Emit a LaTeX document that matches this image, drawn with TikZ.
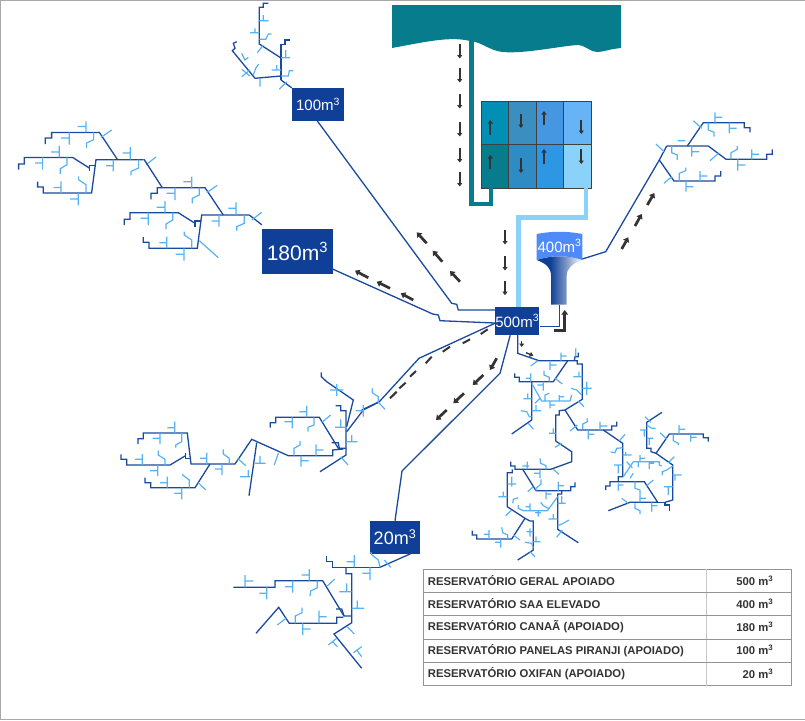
\documentclass[tikz,border=0pt]{standalone}
\usepackage{fontspec}
\setmainfont{Liberation Sans}
\usetikzlibrary{
  arrows.meta,
}
\definecolor{pipeblue}{HTML}{1A4A9E}
\definecolor{tankblue}{HTML}{0F3F96}
\definecolor{twigblue}{HTML}{54B2F5}
\definecolor{seateal}{HTML}{067C8C}
\definecolor{feedblue}{HTML}{8AD2FA}
\definecolor{arrowgray}{HTML}{333333}
\definecolor{framegray}{HTML}{A8A8A8}
\pgfdeclarehorizontalshading{towershade}{100bp}{
  color(0bp)=(tankblue); color(40bp)=(tankblue); color(57bp)=(tankblue!55!white);
  color(75bp)=(white); color(100bp)=(white)
}
\tikzset{
  pipe/.style = {
    draw = pipeblue,
    line width = 1.3pt
  },
  twig/.style = {
    draw = twigblue,
    line width = 1.2pt
  },
  feed/.style = {
    line width = 4.5pt
  },
  flow/.style = {
    -{Triangle[length = 4.5pt, width = 6.5pt]},
    line width = 2.7pt,
    color = arrowgray
  },
  flowthin/.style = {
    -{Triangle[length = 3.5pt, width = 5pt]},
    line width = 2pt,
    color = arrowgray
  },
  dashpiece/.style = {
    line width = 2pt,
    color = arrowgray
  },
  tank/.style = {
    rectangle,
    fill = tankblue,
    text = white,
    inner sep = 0pt,
    font = \fontsize{15}{15}\selectfont
  },
  cell/.style = {
    rectangle,
    draw = black!75,
    line width = .9pt,
    minimum width = 27.4pt,
    minimum height = 43.5pt,
    inner sep = 0pt
  },
  rowtext/.style = {
    inner sep = 0pt,
    text = black!80,
    font = \fontsize{11.3}{13}\selectfont\bfseries
  },
  rowline/.style = {
    draw = black!42,
    line width = .9pt
  },
}
% one block of the Canaa network, repeated
\newcommand{\canaablock}[1]{
  \begin{scope}[shift = {#1}]
    \draw[pipe] (249.3,215) -- (201.7,215) -- (197.3,248.3) -- (149,248.3) -- (149,242.3) -- (143.3,242.3) -- (143.3,237);
    \draw[pipe] (223.3,215) -- (205,187.7) -- (157.3,187.7) -- (157.3,193.3) -- (151,193.3) -- (151,199.3);
    \draw[pipe] (195,223.3) -- (178.3,212.7) -- (130,212.7) -- (130,219.3) -- (124.3,219.3) -- (124.3,225);
    \draw[pipe] (195,226.7) -- (195,221) -- (201,221);
    \draw[twig] (236,215) -- (236,202.3) (228.3,208.3) -- (236,208.3)
      (251.7,220) -- (261.7,212.3)
      (219,215) -- (219,226.7) (211.7,221) -- (219,221)
      (244.3,215) -- (244.3,223.3) -- (236.7,226.7) -- (236.7,230.7)
      (191.7,176.7) -- (191.7,187.7) (183.3,181.7) -- (191.7,181.7)
      (206.7,192.7) -- (217.3,185.3)
      (175,187.7) -- (175,200) (166.7,193.3) -- (175,193.3)
      (199.3,187.7) -- (199.3,195) -- (192.3,198.3) -- (192.3,203.3)
      (165,201) -- (165,212.7) (156.7,207.3) -- (165,207.3)
      (148.3,212.7) -- (148.3,225) (140.7,218.3) -- (148.3,218.3)
      (172.7,212.7) -- (172.7,220) -- (166,224) -- (166,229.3)
      (166.7,236.7) -- (166.7,248.3) (159.3,242.7) -- (166.7,242.7)
      (184,248.3) -- (184,260.7) (175.7,254.3) -- (184,254.3)
      (191.7,248.3) -- (191.7,240) -- (184.3,235) -- (184.3,231.7);
  \end{scope}
}

\begin{document}
\begin{tikzpicture}[x = 1pt, y = -1pt]
  \useasboundingbox (0,0) rectangle (805,720);
  \draw[framegray, line width = 1pt] (805,.5) -- (.5,.5) -- (.5,719) -- (805,719);

  % lake, pumping and treatment
  \fill[seateal] (392,5) -- (621,5) -- (621,48) .. controls (610,49) and (603,52) .. (597,52)
    .. controls (590,52) and (587,46) .. (578,45) .. controls (560,46) and (525,54) .. (503,52)
    .. controls (490,51) and (482,42) .. (470,41) .. controls (450,36) and (425,42) .. (392,48) -- cycle;
  \coordinate (seaout) at (471.7,40);
  \foreach \cname/\cx/\cy/\cclr in {
    a/495/122.7/0090B5, b/522.4/122.7/3A8FC0, c/549.9/122.7/4497E0, d/577.3/122.7/66B3F5,
    e/495/166.2/067C8C, f/522.4/166.2/2E8BC4, g/549.9/166.2/2E97E4, h/577.3/166.2/8AD2FA
  }{
    \definecolor{cellclr}{HTML}{\cclr}
    \node[cell, fill = cellclr] (cell\cname) at (\cx,\cy) {};
  }
  \draw[seateal, feed] (seaout) -- (471.7,204) -- (491,204) -- (cella.south -| 491,187);
  \draw[feedblue, feed] (586,188) -- (586,217.3) -- (518.3,217.3) -- (518.3,307);

  % reservoirs
  \node[tank, minimum width = 44.3pt, minimum height = 28pt] (res500) at (517.2,321) {500m\textsuperscript{3}};
  \node[tank, minimum width = 52pt, minimum height = 32.7pt] (res100) at (318,104.4) {100m\textsuperscript{3}};
  \node[tank, minimum width = 70.7pt, minimum height = 45pt, font = \fontsize{21}{21}\selectfont] (res180) at (297.4,251.5) {180m\textsuperscript{3}};
  \node[tank, minimum width = 50.3pt, minimum height = 32.7pt, font = \fontsize{18}{18}\selectfont] (res20) at (395,537.3) {20m\textsuperscript{3}};
  \shade[shading = towershade, draw = none] (536.7,260) .. controls (552,255) and (567,255) .. (582.3,260)
    .. controls (572,264) and (566.7,268) .. (566.7,276) -- (566.7,304.7) -- (551,304.7) -- (551,276)
    .. controls (551,268) and (547,264) .. (536.7,260) -- cycle;
  \fill[twigblue!70!blue!90!white] (536.7,234) .. controls (552,231) and (567,231) .. (582.3,234) -- (582.3,260)
    .. controls (567,255) and (552,255) .. (536.7,260) -- cycle;
  \node[tank, fill = none, minimum width = 45.6pt, minimum height = 26pt] (res400) at (559.5,246) {400m\textsuperscript{3}};
  \coordinate (res400foot) at (559.3,304.7);
  \coordinate (res400side) at (582.3,259);

  % mains leaving the reservoirs
  \draw[pipe] (res100.south) ++(-.7,0) -- (451.7,303.3) -- (456.7,304.3) -- (458.3,310) -- ([yshift = 11pt]res500.west);
  \draw[pipe] ([yshift = -17.7pt]res180.east) -- (432.7,314) -- (438.3,315) -- (440,320.7) -- ([yshift = -2pt]res500.west);
  \draw[pipe] ([yshift = -2.3pt]res500.west) -- (419,358.3) -- (379.3,401.7) -- (361.7,410);
  \draw[pipe] ([xshift = -7pt]res500.south) -- (500,373.3) -- (402,471) -- (res20.north);
  \draw[pipe] (res400foot) -- (559.3,326.3) -- ([yshift = -5.3pt]res500.east);
  \draw[pipe] (res400side) -- (605.7,251.7) -- (659.3,160) -- (666.7,146);
  \draw[pipe] (res500.south) ++(.5,0) -- (517.7,353.3) -- (539,360.7) -- (574.3,360.7);
  \draw[pipe] ([yshift = 4pt]res180.north west) -- (249.3,215);
  \draw[pipe] ([xshift = 0pt]res100.north west) -- (281,80);
  \draw[pipe] ([xshift = -10pt]res20.south east) -- (380,567.3);

  % arrows
  \foreach \ay in {44, 68, 94, 122, 148, 172}{
    \draw[flowthin] (459.7,\ay) -- +(0,14.5);
  }
  \foreach \ay in {230, 256, 280.7}{
    \draw[flowthin] (505,\ay) -- +(0,14.5);
  }
  \draw[flowthin] (490.3,135) -- (490.3,120);
  \draw[flowthin] (521,114) -- (521,128);
  \draw[flowthin] (544,125) -- (544,111);
  \draw[flowthin] (581.3,120) -- (581.3,134);
  \draw[flowthin] (490.3,169) -- (490.3,155);
  \draw[flowthin] (521,158) -- (521,173);
  \draw[flowthin] (544,164) -- (544,149);
  \draw[flowthin] (581.3,149) -- (581.3,164);
  \draw[flow] (460,281.7) -- (450,271);
  \draw[flow] (442.3,261.7) -- (432.7,250.7);
  \draw[flow] (426.7,243.3) -- (416.7,232.3);
  \draw[flow] (413.3,300) -- (400.7,293.3);
  \draw[flow] (390,288.3) -- (376.7,281.7);
  \draw[flow] (368.3,277.7) -- (355,270.7);
  \draw[flow] (496.7,358.3) -- (490,370);
  \draw[flow] (483.3,375) -- (472.7,385);
  \draw[flow] (464,393.3) -- (453.3,403.3);
  \draw[flow] (446.7,410) -- (436,420);
  \draw[flow] (621.7,249) -- (628.3,237.3);
  \draw[flow] (635,226) -- (641.7,214);
  \draw[flow] (647.3,205) -- (654.3,193);
  \draw[flow, line width = 3pt] (554,330.7) -- (564.7,330.7) -- (564.7,310);
  \draw[dashpiece] (487.7,329.3) -- (480.7,334) (470,339.3) -- (462.7,343.3) (450,346.7) -- (442.7,351.7)
    (431.7,356.7) -- (425.7,363.3) (416,371) -- (410,376.7) (405.7,382.7) -- (399.3,388.3) (396.7,391.7) -- (390,398.3);
  \draw[flowthin, line width = 1.4pt] (521.7,340.7) -- (521.7,347);
  \draw[flowthin, line width = 1.4pt] (526,352.7) -- (533.3,355.7);

  % network 100
  \draw[pipe] (281,80) -- (281,44.3) -- (285,44.3) -- (285,40) -- (290,40);
  \draw[pipe] (281,58) -- (259.3,44) -- (259.3,7.3) -- (263.3,7.3) -- (263.3,3.3) -- (268.3,3.3);
  \draw[pipe] (281,76) -- (255,78.3) -- (232.3,50.7) -- (235,48.3) -- (233.3,43.3) -- (236.7,41.7);
  \draw[twig] (259.3,20.7) -- (268.7,20.7) (263.3,15) -- (263.3,20.7)
    (250,32.7) -- (259.3,32.7) (255,28.3) -- (255,32.7)
    (259.3,39.3) -- (265.7,39.3) -- (268.3,34) -- (271.7,34)
    (263.3,45) -- (257.3,52.7)
    (281,57.7) -- (290,57.7) (285.7,50) -- (285.7,57.7)
    (271.7,70) -- (281,70) (276.7,65) -- (276.7,70)
    (281,76) -- (288.3,76) -- (289.3,70.7) -- (293.3,70.7)
    (286.7,81.7) -- (279.3,89.3)
    (260,78.3) -- (260,86.7)
    (253.3,75) -- (255.7,68.3) -- (258.7,64)
    (241.7,76.7) -- (250,70) (241.7,69.3) -- (250,76)
    (241.7,53.3) -- (245,60) -- (248.3,57.3);

  % network 180
  \canaablock{(0,0)}
  \canaablock{(-105.7,-55.3)}
  \draw[pipe] (144,159.3) -- (162.3,187.7);
  \draw[twig] (199.3,240.7) -- (218.3,257.7);

  % network lower left
  \draw[pipe] (378.3,402.3) -- (363.3,410) -- (346.7,431.7);
  \draw[pipe] (335.7,405.7) -- (340.7,405.7) -- (340.7,410.7) -- (346,410.7) -- (346,455) -- (320,471.7);
  \draw[pipe] (346.7,426.7) -- (353.3,400) -- (326.7,381.7) -- (321.3,376.7) -- (321.3,372.3);
  \draw[pipe] (346,448.3) -- (338.3,448.3) -- (319.3,417.3) -- (275.7,417.3) -- (275.7,422.7) -- (270.3,422.7) -- (270.3,427.7);
  \draw[pipe] (331.7,442.7) -- (338.3,442.7) -- (339.3,448.3);
  \draw[pipe] (343.3,449) -- (332.7,450) -- (332.7,455.7) -- (288.3,455.7) -- (251.7,439.3) -- (235,464) -- (191,464) -- (187.3,433) -- (143.3,433) -- (143.3,438.7) -- (138,438.7) -- (138,444);
  \draw[pipe] (256.7,442.7) -- (249,495.7);
  \draw[pipe] (210,464) -- (195,487.7) -- (150.7,487.7) -- (150.7,482.7) -- (145,482.7) -- (145,477.7);
  \draw[pipe] (185,456) -- (170,465) -- (126.7,465) -- (126.7,459.3) -- (121,459.3) -- (121,454.3);
  \draw[pipe] (185.7,453.3) -- (185.7,458.3) -- (191,458.3);
  \draw[twig] (372.3,388.3) -- (372.3,392.7) -- (378.3,396.7) -- (378.3,402.3)
    (378.3,402.3) -- (385,409.3)
    (363.3,405) -- (363.3,416.7) (355.7,410.7) -- (363.3,410.7)
    (336.7,384) -- (336.7,396) (330,390) -- (343.3,390)
    (340.7,419.3) -- (340.7,427.3) (335,427.3) -- (346,427.3)
    (346,441.7) -- (357.3,441.7) (351.7,435) -- (351.7,441.7)
    (340.7,456.7) -- (348,465)
    (306.7,405.7) -- (306.7,417.3) (299.3,411.7) -- (306.7,411.7)
    (292.3,417.3) -- (292.3,428.3) (284.3,421.7) -- (292.3,421.7)
    (314,417.3) -- (314,425) -- (308,427.3) -- (308,431.7)
    (322.3,422) -- (330.7,415)
    (294,455.7) -- (294,448.3) -- (300,445) -- (300,441)
    (316,455.7) -- (316,444.3) (316,450) -- (323.3,450)
    (301,455.7) -- (301,466.7) (301,460.7) -- (308.7,460.7)
    (278.3,453.3) -- (274.3,465)
    (260,456) -- (260,463.3) (255,463.3) -- (265.7,463.3)
    (237.7,458.3) -- (245.7,465.7)
    (248.3,470) -- (248.3,477.3) (240,476.7) -- (250,476.7)
    (222,464) -- (222,475) (215,469) -- (222,469)
    (229.3,464) -- (229.3,458.3) -- (223.3,454) -- (223.3,449.3)
    (206.7,452.7) -- (206.7,464) (200,458.3) -- (206.7,458.3)
    (174.7,421.7) -- (174.7,433) (167.3,427.7) -- (174.7,427.7)
    (160,433) -- (160,444) (152.7,438.3) -- (160,438.3)
    (181.7,433) -- (181.7,441.7) -- (175.7,445) -- (175.7,447.7)
    (142.3,454) -- (142.3,465) (135,459.3) -- (142.3,459.3)
    (157.7,465) -- (157.7,476) (150,470.7) -- (157.7,470.7)
    (165,465) -- (165,459.3) -- (158.3,455) -- (158.3,450.7)
    (167.3,476.7) -- (167.3,487.7) (160,482.7) -- (167.3,482.7)
    (181.7,487.7) -- (181.7,499.3) (174.3,493.3) -- (181.7,493.3)
    (189.3,487.7) -- (189.3,480) -- (182.7,475) -- (182.7,474)
    (198.3,482.7) -- (205.7,490);

  % network 20
  \draw[pipe] (380,567.3) -- (332.7,567.3) -- (332.7,561.7) -- (326.7,561.7) -- (326.7,556);
  \draw[pipe] (346,567.3) -- (346,573.7) -- (351.7,573.7) -- (351.7,622.7) -- (334,634) -- (361.7,668.3);
  \draw[pipe] (351.7,616) -- (344,616) -- (322.7,580.7) -- (275,580.7) -- (275,587.3) -- (233.3,587.3);
  \draw[pipe] (343.3,617.3) -- (336.7,617.3) -- (336.7,623.3) -- (289.3,623.3) -- (278.7,607.3) -- (256,633.3);
  \draw[pipe] (336,609) -- (341.7,609) -- (344,616);
  \draw[twig] (370.7,552) -- (372,555) -- (378.3,560) -- (380,567.3)
    (384.3,560) -- (390.7,567.3)
    (354.3,555) -- (354.3,567.3) (346.7,561.7) -- (354.3,561.7)
    (370,567.3) -- (370,580) (362.3,573.3) -- (370,573.3)
    (309.3,569) -- (309.3,580.7) (301.7,575) -- (309.3,575)
    (292.7,580.7) -- (292.7,592.7) (285,586.7) -- (292.7,586.7)
    (317.3,580.7) -- (317.3,587.7) -- (310.7,591) -- (310,596)
    (327.3,586) -- (334.7,579)
    (346.7,583.3) -- (346.7,591.7) (339.3,591.7) -- (351.7,591.7)
    (357.3,600.7) -- (357.3,608.3) (351.7,608.3) -- (364,608.3)
    (347.3,626.7) -- (354.3,634)
    (336.7,638.3) -- (328.3,645) (332.7,641.7) -- (337.3,646.7)
    (353.3,652.7) -- (361.7,646.7) (356.7,650) -- (361.7,656.7)
    (319,623.3) -- (319,610.7) (319,616.7) -- (326.7,616.7)
    (302.7,623.3) -- (302.7,635) (302.7,629) -- (310.7,629)
    (295.3,623.3) -- (295.3,616) -- (302,612.7) -- (302,607.7)
    (277.3,625) -- (286,618.3)
    (245,575) -- (245,587.3) (245,581) -- (253.3,581)
    (266.7,587.3) -- (266.7,599.3) (259.3,593.3) -- (266.7,593.3);

  % network 400
  \draw[pipe] (666.7,146) -- (708.3,146) -- (726,159.3) -- (766.7,159.3) -- (766.7,154.3) -- (772.3,154.3) -- (772.3,149.3);
  \draw[pipe] (687.3,146) -- (703.3,122.7) -- (744.3,122.7) -- (744.3,127.7) -- (750,127.7) -- (750,132.3);
  \draw[pipe] (659.3,160) -- (674,181) -- (715,181) -- (715,176) -- (720.7,176) -- (720.7,171);
  \draw[twig] (656,144) -- (664,151.7)
    (671.7,146) -- (671.7,152.7) -- (677.3,155) -- (677.3,160)
    (691.7,146) -- (691.7,156.7) (691.7,151.7) -- (699.3,151.7)
    (677.7,140.7) -- (685.3,140.7)
    (693.3,120.7) -- (701.7,128.3)
    (708.3,122.7) -- (708.3,130) -- (714,132.3) -- (714,136.7)
    (715,112.3) -- (715,122.7) (715,117.3) -- (722.3,117.3)
    (729.3,122.7) -- (729.3,133.3) (729.3,128.3) -- (736.7,128.3)
    (710,160.7) -- (718.3,153.3)
    (731,159.3) -- (731,152.7) -- (737.3,149.3) -- (737.3,146)
    (737.7,159.3) -- (737.7,170.7) (737.7,165) -- (745.3,165)
    (751.7,149.3) -- (751.7,159.3) (751.7,154.3) -- (759,154.3)
    (664,183.3) -- (671.7,176.7)
    (679.3,181) -- (679.3,173.3) -- (685.7,170.7) -- (685.7,167.7)
    (686,181) -- (686,191.7) (686,186.7) -- (693.3,186.7)
    (700,171) -- (700,181) (700,176) -- (707.3,176);

  % network 500
  \draw[pipe] (574.3,360.7) -- (575,356.7) -- (578.3,356.7) -- (578.3,352.7);
  \draw[pipe] (574.3,360.7) -- (577.3,360.7) -- (577.3,364) -- (582.3,364) -- (582.3,399.3) -- (565,410) -- (559.3,410.7) -- (559.3,415) -- (555.7,415) -- (555.7,441) -- (571.7,451.7) -- (571.7,461.7) -- (550.7,469.3) -- (515,469.3) -- (515,466) -- (510.7,466) -- (510.7,461.7);
  \draw[pipe] (567.7,360.7) -- (553.3,381.7) -- (519.3,381.7) -- (519.3,377.3) -- (514.7,377.3) -- (514.7,373.3);
  \draw[pipe] (531.7,381.7) -- (531.7,420) -- (511.7,434);
  \draw[pipe] (565,410) -- (577.7,430) -- (611.7,430) -- (611.7,426) -- (616.7,426) -- (616.7,421.7);
  \draw[pipe] (603.3,430) -- (622.7,443.3) -- (622.7,476.7) -- (618.3,476.7) -- (618.3,481.7) -- (610,481.7) -- (610,486) -- (605.7,486) -- (605.7,490);
  \draw[pipe] (618.3,481.7) -- (644.3,481.7) -- (657.7,502.3) -- (630,502.3) -- (608.3,510.7);
  \draw[pipe] (657.7,502.3) -- (665,502.3) -- (665,505) -- (669.3,505) -- (669.3,510.7);
  \draw[pipe] (665,502.3) -- (672.7,500) -- (672.7,465) -- (656,453.3) -- (669.3,434) -- (703.3,434) -- (703.3,437.7) -- (708.3,437.7) -- (708.3,441.7);
  \draw[pipe] (656,453.3) -- (651,451.7) -- (651,448.3) -- (646.7,448.3) -- (646.7,422.3) -- (662,412.3);
  \draw[pipe] (522.7,469.3) -- (536,490.7) -- (570.7,490.7) -- (570.7,486.7) -- (575,486.7) -- (575,482.3);
  \draw[pipe] (561.7,490.7) -- (561.7,494) -- (557.7,494) -- (557.7,529.3) -- (578.3,542.7);
  \draw[pipe] (512.3,469.3) -- (512.3,472.7) -- (507.3,472.7) -- (507.3,506.7) -- (525,518.3) -- (530,521) -- (533.3,521) -- (533.3,550) -- (517.7,560);
  \draw[pipe] (525,518.3) -- (511.7,539) -- (476.7,539) -- (476.7,535) -- (472.3,535) -- (472.3,530.7);
  \draw[twig] (561,352.7) -- (561,360.7) (561,356) -- (566.7,356)
    (575.7,348.3) -- (575.7,356.7)
    (550,360.7) -- (550,370) (550,365) -- (556.7,365)
    (537.7,360.7) -- (530.7,366)
    (544,370.7) -- (544,375) -- (549.3,377.3) -- (549.3,381.7)
    (555,378.3) -- (562.3,384)
    (530.7,373.3) -- (530.7,381.7) (526,378.3) -- (530.7,378.3)
    (543.3,381.7) -- (543.3,390.7) (537.3,385) -- (543.3,385)
    (579,371.7) -- (579,376.7) (573.3,376.7) -- (582.3,376.7)
    (586.7,381.7) -- (586.7,395) (582.3,388.3) -- (591.7,388.3)
    (571,388.3) -- (576.7,390) -- (581.7,395)
    (578.3,401) -- (584,406.7)
    (531.7,383.3) -- (541.7,401) -- (570,401) -- (571.7,395)
    (545,401) -- (545,395) -- (549.3,393.3)
    (550,401) -- (550,408.3) (550,405) -- (555,405)
    (559.3,401) -- (559.3,395) (559.3,396.7) -- (564,396.7)
    (540,398.3) -- (535,403.3)
    (523.3,398.7) -- (531.7,398.7) (527.7,393.3) -- (527.7,399.3)
    (531.7,410.7) -- (541,410.7) (536,405) -- (536,410.7)
    (520.7,410.7) -- (526.7,411.7) -- (529.3,416.7) -- (531.7,416.7)
    (528.3,423.3) -- (533.3,429.3)
    (549,433.3) -- (555.7,433.3) (553.3,428.3) -- (553.3,433.3)
    (561.7,443.3) -- (555,447.3)
    (570,431) -- (577.3,425)
    (582.7,429.3) -- (582.7,424) -- (587.3,421.7) -- (587.3,418.3)
    (600,421.7) -- (600,430) (600,426) -- (607.3,426)
    (588.3,430) -- (588.3,439.3) (588.3,434.3) -- (594.3,434.3)
    (619.3,441) -- (625,434.3)
    (622.7,447.7) -- (616.7,448.3) -- (615,452.7) -- (610.7,452)
    (622.7,455) -- (631.7,455) (625.7,452) -- (625.7,455)
    (614,465) -- (622.7,465) (618.3,465) -- (618.3,473.3)
    (618.3,483.3) -- (618.3,490.7) (618.3,485) -- (623.3,485)
    (645,416.7) -- (650.7,422.3)
    (646.7,425) -- (651.7,428.3) -- (655.7,428.3)
    (640,430) -- (646.7,430) (644.3,430) -- (644.3,436.7)
    (646.7,438.3) -- (653.3,438.3) (649.3,438.3) -- (649.3,445)
    (660,432.7) -- (666.7,439)
    (679,425) -- (679,434) (679,429.3) -- (685,429.3)
    (673.3,434) -- (673.3,440.7) -- (678.3,443.3) -- (678.3,445)
    (690.7,434) -- (690.7,441.7) (690.7,437.3) -- (696.7,437.3)
    (668.3,462.7) -- (674.3,456.7)
    (672.7,466) -- (666.7,470) -- (662.3,471.7) -- (662.3,475)
    (672.7,475) -- (681.7,475) (675,475) -- (675,480.7)
    (664,486.7) -- (672.7,486.7) (668.3,486.7) -- (668.3,495)
    (633.3,461.7) -- (623.3,476.7)
    (633.3,461.7) -- (659.3,461.7) -- (659.3,465) -- (661.7,466)
    (640,455) -- (640,461.7) (640,458.3) -- (645,458.3)
    (649.3,461.7) -- (649.3,469) (649.3,463.3) -- (654,463.3)
    (638.3,461.7) -- (638.3,467)
    (626.7,461.7) -- (632.3,468)
    (633.3,473.3) -- (630,478.3)
    (646.7,485.7) -- (653.3,480)
    (635,481.7) -- (635,488.3) -- (640,490) -- (640,493.3)
    (640,493.3) -- (640,502.3) (640,498.3) -- (646,498.3)
    (651.7,502.3) -- (651.7,511.7) (651.7,505.7) -- (657.3,505.7)
    (621.7,498.3) -- (628.3,503.3)
    (635,503.3) -- (635,508.3) -- (640,510.7) -- (640,514)
    (527.3,461.7) -- (527.3,469.3) (522.3,466) -- (529,466)
    (540,458.3) -- (540.7,463.3) -- (546,465.7) -- (546,469.3)
    (553.3,469.3) -- (559,474.3)
    (540,469.3) -- (540,478.3) (534,473.3) -- (540,473.3)
    (511.7,476.7) -- (511.7,486.7) (507.7,484) -- (516,484)
    (503.3,491.7) -- (503.3,496.7) (498.3,496.7) -- (507.3,496.7)
    (512.7,503.3) -- (513.3,499.3) -- (518.3,497.7)
    (511.7,510) -- (505.7,515.7)
    (541,479.3) -- (541,484) -- (536,488.3) -- (536,490.7)
    (533.3,486.7) -- (527.7,491.7)
    (558.3,481.7) -- (558.3,490.7) (558.3,485.7) -- (564,485.7)
    (546,490.7) -- (546,499.3) (546,494) -- (551.7,494)
    (518.3,505) -- (518.3,508.3) -- (523.3,510.7) -- (547.3,510.7) -- (557.7,496.7)
    (530,503.3) -- (530,510.7) (525.7,506.7) -- (530,506.7)
    (538.3,510.7) -- (538.3,516.7) (535,512.7) -- (541,512.7)
    (540.7,502.3) -- (543.3,505.7) -- (548.3,508.3)
    (557.7,503.3) -- (565.7,503.3) (561.7,496) -- (561.7,503.3)
    (548.3,519) -- (557.7,519) (553.3,514) -- (553.3,519)
    (557.7,525.7) -- (563.3,523.3) -- (569,520)
    (562.3,530) -- (556.7,537.3)
    (530,528.3) -- (530,536.7) (526.7,531.7) -- (533.3,531.7)
    (533.3,541.7) -- (540.7,541.7) (536,536.7) -- (536,541.7)
    (525,542.3) -- (531.7,543.3) -- (533.3,548.3)
    (530,551.7) -- (535,556.7)
    (489,530) -- (489,539) (484,534.3) -- (489,534.3)
    (500.7,539) -- (500.7,547.7) (495,542.3) -- (500.7,542.3)
    (501.7,527.3) -- (502.7,532.7) -- (507.7,535) -- (507.7,539)
    (513.3,535) -- (520,540);

  % capacity table
  \draw[rowline] (423.3,569.3) rectangle (791.7,685.7);
  \draw[rowline, draw = black!22, line width = 1.4pt] (706.7,569.3) -- (706.7,685.7);
  \foreach \ly in {592.3, 615.7, 639, 662.3}{
    \draw[rowline] (423.3,\ly) -- (791.7,\ly);
  }
  \foreach \ly/\lname/\lval/\ltext in {
    580.3/geral/500/RESERVATÓRIO GERAL APOIADO,
    603.5/saa/400/RESERVATÓRIO SAA ELEVADO,
    626.8/canaa/180/RESERVATÓRIO CANAÃ (APOIADO),
    650.2/panelas/100/RESERVATÓRIO PANELAS PIRANJI (APOIADO),
    673.5/oxifan/20/RESERVATÓRIO OXIFAN (APOIADO)
  }{
    \node[rowtext, anchor = west] (name\lname) at (427.7,\ly) {\ltext};
    \node[rowtext, anchor = east] (val\lname) at (773.5,\ly) {\lval{} m\textsuperscript{3}};
  }
\end{tikzpicture}
\end{document}
